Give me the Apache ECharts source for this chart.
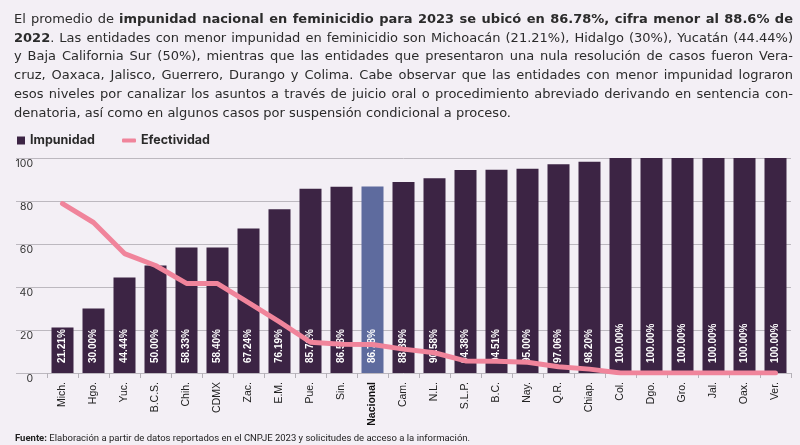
<!DOCTYPE html>
<html>
<head>
<meta charset="utf-8">
<script src="https://cdn.jsdelivr.net/npm/echarts@6/dist/echarts.min.js"></script>
<style>
  html, body { margin: 0; padding: 0; background: #f3eff5; }
  #wrap { position: relative; width: 800px; height: 445px; overflow: hidden; background: #f3eff5; }
  #chart { position: absolute; left: 0; top: 0; width: 800px; height: 445px; }
  #para { position: absolute; left: 14px; top: 10px; width: 779px; font-family: "DejaVu Sans", sans-serif; font-size: 13px; line-height: 18.7px; color: #2b2b2b; }
  #para div { text-align: justify; text-align-last: justify; white-space: nowrap; }
  #para div.last { text-align-last: left; }
  #foot { position: absolute; left: 15px; top: 432px; font-family: "Liberation Sans Narrow", "Roboto", sans-serif; font-size: 9.5px; color: #222; white-space: nowrap; }
</style>
</head>
<body>
<div id="wrap">
  <div id="chart"></div>
  <div id="para">
    <div>El promedio de <b>impunidad nacional en feminicidio para 2023 se ubicó en 86.78%, cifra menor al 88.6% de</b></div>
    <div><b>2022</b>. Las entidades con menor impunidad en feminicidio son Michoacán (21.21%), Hidalgo (30%), Yucatán (44.44%)</div>
    <div>y Baja California Sur (50%), mientras que las entidades que presentaron una nula resolución de casos fueron Vera-</div>
    <div>cruz, Oaxaca, Jalisco, Guerrero, Durango y Colima. Cabe observar que las entidades con menor impunidad lograron</div>
    <div>esos niveles por canalizar los asuntos a través de juicio oral o procedimiento abreviado derivando en sentencia con-</div>
    <div class="last">denatoria, así como en algunos casos por suspensión condicional a proceso.</div>
  </div>
  <div id="foot"><b>Fuente:</b> Elaboración a partir de datos reportados en el CNPJE 2023 y solicitudes de acceso a la información.</div>
</div>
<script>
const categories = ['Mich.', 'Hgo.', 'Yuc.', 'B.C.S.', 'Chih.', 'CDMX', 'Zac.', 'E.M.', 'Pue.', 'Sin.', 'Nacional', 'Cam.', 'N.L.', 'S.L.P.', 'B.C.', 'Nay.', 'Q.R.', 'Chiap.', 'Col.', 'Dgo.', 'Gro.', 'Jal.', 'Oax.', 'Ver.'];
const impunidad = [21.21, 30.00, 44.44, 50.00, 58.33, 58.40, 67.24, 76.19, 85.71, 86.58, 86.78, 88.89, 90.58, 94.38, 94.51, 95.00, 97.06, 98.20, 100.00, 100.00, 100.00, 100.00, 100.00, 100.00];
const efectividad = [78.79, 70.00, 55.56, 50.00, 41.67, 41.60, 32.76, 23.81, 14.29, 13.42, 13.22, 11.11, 9.42, 5.62, 5.49, 5.00, 2.94, 1.80, 0, 0, 0, 0, 0, 0];
const yTicks = [0, 20, 40, 60, 80, 100];
const highlight = 'Nacional';

const BAR = '#3c2444';
const BAR_HL = '#5e6b9e';
const LINE = '#f0849b';

const xCats = [''].concat(categories);
const barData = ['-'].concat(impunidad.map((v, i) => ({
  value: v,
  itemStyle: { color: categories[i] === highlight ? BAR_HL : BAR }
})));
const lineData = ['-'].concat(efectividad);

const chart = echarts.init(document.getElementById('chart'), null, { renderer: 'canvas' });
chart.setOption({
  backgroundColor: 'transparent',
  animation: false,
  grid: { left: 16, right: 9, top: 158, bottom: 72, containLabel: false },
  legend: [
    {
      data: ['Impunidad'], left: 17, top: 134, padding: 0,
      itemWidth: 8, itemHeight: 8, icon: 'rect',
      textStyle: { fontFamily: 'Inter', fontWeight: 'bold', fontSize: 12.5, color: '#2a2a2a' }
    },
    {
      data: ['Efectividad'], left: 122, top: 134, padding: 0,
      itemWidth: 14, itemHeight: 4, icon: 'roundRect',
      textStyle: { fontFamily: 'Inter', fontWeight: 'bold', fontSize: 12.5, color: '#2a2a2a' }
    }
  ],
  xAxis: {
    type: 'category',
    data: xCats,
    axisLine: { show: false },
    axisTick: {
      show: true, length: 5, lineStyle: { color: '#b5b1b8' },
      interval: function (idx) { return idx !== 0; }
    },
    axisLabel: {
      interval: 0, rotate: 90, margin: 9,
      fontFamily: 'Liberation Sans', fontSize: 10.5, color: '#222',
      formatter: function (v) { return v === highlight ? '{b|' + v + '}' : v; },
      rich: { b: { fontWeight: 'bold', fontFamily: 'Liberation Sans', fontSize: 10.5, color: '#111' } }
    }
  },
  yAxis: {
    type: 'value', min: yTicks[0], max: yTicks[yTicks.length - 1], interval: 20,
    axisLine: { show: false }, axisTick: { show: false },
    splitLine: { lineStyle: { color: '#bcb8bf', width: 1 } },
    axisLabel: {
      inside: true, align: 'right', verticalAlign: 'top', margin: 17,
      fontFamily: 'Inter', fontSize: 10.5, color: '#333'
    }
  },
  series: [
    {
      name: 'Impunidad', type: 'bar', data: barData, barWidth: 22,
      itemStyle: { color: BAR },
      z: 2,
      label: {
        show: true, position: 'insideBottom', distance: 10, rotate: 90,
        align: 'left', verticalAlign: 'middle',
        fontFamily: 'Liberation Sans', fontWeight: 'bold', fontSize: 10, color: '#ffffff',
        formatter: function (p) { return Number(p.value).toFixed(2) + '%'; }
      }
    },
    {
      name: 'Efectividad', type: 'line', data: lineData,
      showSymbol: false, symbol: 'none', z: 10,
      itemStyle: { color: LINE },
      lineStyle: { color: LINE, width: 5, cap: 'round', join: 'round' }
    }
  ]
});
</script>
</body>
</html>
